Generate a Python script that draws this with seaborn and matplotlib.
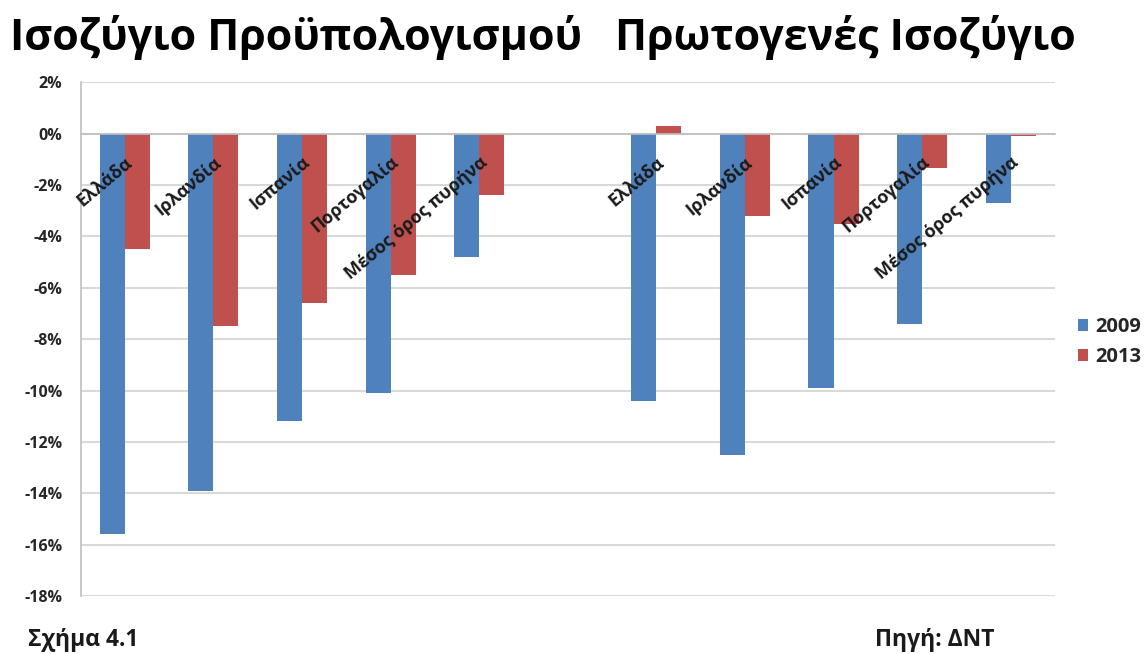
import matplotlib
matplotlib.use("Agg")
import matplotlib.pyplot as plt
from matplotlib.ticker import FixedLocator, PercentFormatter
import seaborn as sns
import pandas as pd

# Country groups and yearly balances (% of GDP)
countries = ["Ελλάδα", "Ιρλανδία", "Ισπανία", "Πορτογαλία", "Μέσος όρος πυρήνα"]
years = ["2009", "2013"]
budget_2009 = [-15.6, -13.9, -11.2, -10.1, -4.8]
budget_2013 = [-4.5, -7.5, -6.6, -5.5, -2.4]
primary_2009 = [-10.4, -12.5, -9.9, -7.4, -2.7]
primary_2013 = [0.3, -3.2, -3.5, -1.35, -0.1]
panel_titles = ["Ισοζύγιο Προϋπολογισμού", "Πρωτογενές Ισοζύγιο"]
y_ticks = [2, 0, -2, -4, -6, -8, -10, -12, -14, -16, -18]

sns.set_theme(style="white")
plt.rcParams["font.family"] = ["Open Sans", "DejaVu Sans"]
plt.rcParams["axes.unicode_minus"] = False

rows = []
for c, v09, v13 in zip(countries, budget_2009, budget_2013):
    rows.append({"slot": "B|" + c, "year": "2009", "value": v09})
    rows.append({"slot": "B|" + c, "year": "2013", "value": v13})
for c, v09, v13 in zip(countries, primary_2009, primary_2013):
    rows.append({"slot": "P|" + c, "year": "2009", "value": v09})
    rows.append({"slot": "P|" + c, "year": "2013", "value": v13})
df = pd.DataFrame(rows)

order = ["B|" + c for c in countries] + ["gap"] + ["P|" + c for c in countries]
labels = countries + [""] + countries

fig = plt.figure(figsize=(11.48, 6.54), dpi=100)
ax = fig.add_axes([80.5 / 1148, 1 - 596 / 654, 974.5 / 1148, (596 - 82.3) / 654])

palette = {"2009": "#4F81BD", "2013": "#C0504D"}
sns.barplot(data=df, x="slot", y="value", hue="year", order=order,
            hue_order=years, palette=palette, width=0.565, saturation=1,
            linewidth=0, ax=ax)

ax.set_ylim(-18, 2)
ax.set_xlim(-0.5, len(order) - 0.5)
ax.yaxis.set_major_locator(FixedLocator(y_ticks))
ax.yaxis.set_major_formatter(PercentFormatter(decimals=0))
ax.yaxis.grid(True, color="#D9D9D9", linewidth=1.5)
ax.set_axisbelow(True)
# category names sit on top of the bars
ax.xaxis.set_zorder(3)
ax.set_xlabel("")
ax.set_ylabel("")

for side in ["top", "right"]:
    ax.spines[side].set_visible(False)
ax.spines["left"].set_color("#BFBFBF")
ax.spines["left"].set_linewidth(1.2)
ax.spines["bottom"].set_position(("data", 0))
ax.spines["bottom"].set_color("#BFBFBF")
ax.spines["bottom"].set_linewidth(1.2)

ax.tick_params(axis="y", which="major", length=5, width=1.2, color="#BFBFBF",
               pad=8, labelsize=11.5, labelcolor="#262626")
for t in ax.get_yticklabels():
    t.set_fontweight("bold")

ax.set_xticks(range(len(order)))
ax.set_xticklabels(labels, rotation=40, ha="right", va="top",
                   rotation_mode="anchor", fontsize=13, fontweight="bold",
                   color="#1A1A1A")
ax.set_xticks([i + 0.5 for i in range(len(order))], minor=True)
ax.tick_params(axis="x", which="major", length=0, pad=14)
ax.tick_params(axis="x", which="minor", length=4, width=1.2, color="#BFBFBF",
               direction="out")

leg = ax.legend(loc="upper left", bbox_to_anchor=(1060 / 1148, 1 - 299 / 654),
                bbox_transform=fig.transFigure, frameon=False,
                handlelength=0.5, handleheight=0.5, handletextpad=0.35,
                labelspacing=0.5, prop={"weight": "bold", "size": 14.5})

fig.text(10 / 1148, 1 - 38 / 654, panel_titles[0], fontsize=31,
         fontweight="bold", va="center", ha="left", color="black")
fig.text(615 / 1148, 1 - 38 / 654, panel_titles[1], fontsize=31,
         fontweight="bold", va="center", ha="left", color="black")
fig.text(28 / 1148, 1 - 640 / 654, "Σχήμα 4.1", fontsize=16.5,
         fontweight="bold", va="center", ha="left", color="#1A1A1A")
fig.text(875 / 1148, 1 - 640 / 654, "Πηγή: ΔΝΤ", fontsize=16.5,
         fontweight="bold", va="center", ha="left", color="#1A1A1A")

fig.savefig("out.png", dpi=100, facecolor="white")
